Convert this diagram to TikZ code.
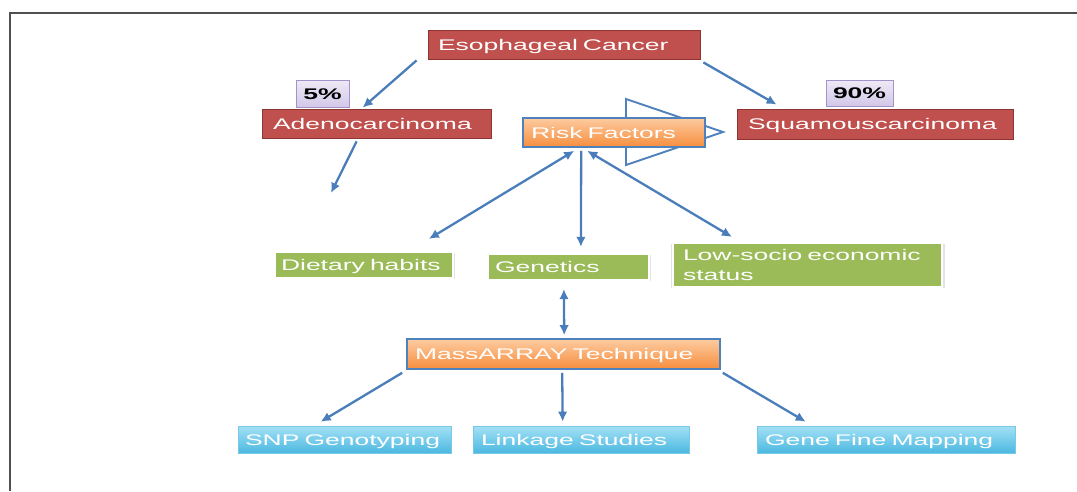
\documentclass[tikz,border=0pt]{standalone}
\usepackage{fontspec}
\newfontfamily\wide[FakeStretch=1.72]{Liberation Sans}
\usetikzlibrary{arrows.meta,shadows,calc}
\definecolor{redfill}{HTML}{C0504D}
\definecolor{reddraw}{HTML}{8E3532}
\definecolor{pcttop}{HTML}{EEE9F6}
\definecolor{pctbot}{HTML}{D3C8E8}
\definecolor{pctdraw}{HTML}{A393CC}
\definecolor{orgtop}{HTML}{FDCBA0}
\definecolor{orgbot}{HTML}{F68E3E}
\definecolor{bluedraw}{HTML}{4F81BD}
\definecolor{greenfill}{HTML}{9BBB59}
\definecolor{cyantop}{HTML}{A3E1F6}
\definecolor{cyanbot}{HTML}{4CB8E0}
\definecolor{cyandraw}{HTML}{78C9E6}
\definecolor{arrowcol}{HTML}{4A7EBB}
\definecolor{framecol}{HTML}{505050}
\begin{document}
\begin{tikzpicture}[x=1pt,y=-1pt,
  basebox/.style={rectangle, inner ysep=0pt, align=left, text=white,
    font=\wide\fontsize{15.4}{20}\selectfont},
  oneline/.style={text height=14pt, text depth=3pt},
  redbox/.style={basebox, oneline, fill=redfill, draw=reddraw, line width=0.8pt,
    drop shadow={shadow xshift=0.8pt, shadow yshift=-1.2pt, opacity=0.25}},
  pctbox/.style={rectangle, inner sep=0pt, align=center, text=black,
    font=\wide\bfseries\fontsize{15.4}{20}\selectfont, oneline,
    top color=pcttop, bottom color=pctbot, draw=pctdraw, line width=0.8pt},
  orangebox/.style={basebox, oneline, top color=orgtop, bottom color=orgbot,
    draw=bluedraw, line width=1.6pt},
  greenbox/.style={basebox, fill=greenfill, draw=white, line width=2.2pt,
    drop shadow={shadow xshift=0.6pt, shadow yshift=-1pt, shadow scale=1.02, opacity=0.22}},
  cyanbox/.style={basebox, oneline, top color=cyantop, bottom color=cyanbot,
    draw=cyandraw, line width=0.6pt},
  conn/.style={draw=arrowcol, line width=2.3pt, -{Latex[length=10pt,width=9.5pt]}},
  dconn/.style={draw=arrowcol, line width=2.3pt, {Latex[length=10pt,width=9.5pt]}-{Latex[length=10pt,width=9.5pt]}},
  tri/.style={draw=bluedraw, fill=white, line width=1.9pt, line join=miter}
]
\useasboundingbox (0,0) rectangle (1077,491);
\draw[framecol, line width=2pt] (10,491) -- (10,13) -- (1077,13);

% big outlined triangle behind Risk Factors
\draw[tri] (626,99) -- (723,132) -- (626,165) -- cycle;

% top level
\node[redbox, minimum width=272, minimum height=29, inner xsep=10, text width=252] (esoph) at (564,44.5) {Esophageal Cancer};
\node[redbox, minimum width=229, minimum height=29, inner xsep=11, text width=207] (adeno) at (376.5,123.5) {Adenocarcinoma};
\node[redbox, minimum width=276, minimum height=30, inner xsep=11, text width=254] (squam) at (875,124) {Squamouscarcinoma};
\node[pctbox, minimum width=53, minimum height=27] (p5) at (322.5,93.5) {5\%};
\node[pctbox, minimum width=67, minimum height=26] (p90) at (859.5,93) {90\%};

\node[orangebox, minimum width=182, minimum height=29, inner xsep=8, text width=166] (risk) at (614,132.5) {Risk Factors};

% risk factor categories
\node[greenbox, oneline, minimum width=178, minimum height=26, inner xsep=6, text width=166] (diet) at (364,265) {Dietary habits};
\node[greenbox, oneline, minimum width=161, minimum height=26, inner xsep=7, text width=147] (genet) at (568.5,267) {Genetics};
\node[greenbox, minimum width=269, minimum height=44, inner xsep=10, text width=249] (low) at (807.5,265) {Low-socio economic\\status};

\node[orangebox, minimum width=313, minimum height=30, inner xsep=8, text width=297] (mass) at (563.5,354) {MassARRAY Technique};

\node[cyanbox, minimum width=213, minimum height=27, inner xsep=7, text width=199] (snp) at (344.5,439.5) {SNP Genotyping};
\node[cyanbox, minimum width=216, minimum height=27, inner xsep=8, text width=200] (link) at (581,439.5) {Linkage Studies};
\node[cyanbox, minimum width=258, minimum height=27, inner xsep=8, text width=242] (gene) at (886,439.5) {Gene Fine Mapping};

\coordinate (adenoEnd) at (331,193);

% connectors
\draw[conn] ($(esoph.south west)+(-11,1)$) -- ($(adeno.north west)+(101,-1)$);
\draw[conn] ($(esoph.south east)+(3,3)$) -- ($(squam.north west)+(40,-4)$);
\draw[conn] ($(adeno.south west)+(95,3)$) -- (adenoEnd);
\draw[dconn] ($(risk.south west)+(52,3)$) -- ($(diet.north west)+(155,-12)$);
\draw[conn] ($(risk.south west)+(59,3)$) -- ($(genet.north west)+(94,-6)$);
\draw[dconn] ($(risk.south west)+(65,3)$) -- ($(low.north west)+(60,-5)$);
\draw[dconn] ($(genet.south west)+(77,8)$) -- ($(mass.north west)+(158,-3)$);
\draw[conn] ($(mass.south west)+(-4,3)$) -- ($(snp.north west)+(83,-4)$);
\draw[conn] ($(mass.south west)+(156,3)$) -- ($(link.north west)+(90,-4)$);
\draw[conn] ($(mass.south east)+(2,3)$) -- ($(gene.north west)+(49,-4)$);
\end{tikzpicture}
\end{document}
